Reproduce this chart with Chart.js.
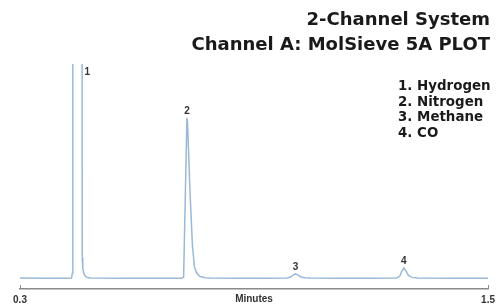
<!DOCTYPE html>
<html>
<head>
<meta charset="utf-8">
<script src="https://cdn.jsdelivr.net/npm/chart.js@4"></script>
<style>
  html, body { margin: 0; padding: 0; background: #fff; }
  #wrap { width: 500px; height: 306px; position: relative; }
</style>
</head>
<body>
<div id="wrap"><canvas id="crom" width="500" height="306"></canvas></div>
<script>
// chromatogram trace (minutes / relative signal)
const times = [
  0.300, 0.360, 0.420, 0.432, 0.4345, 0.4355, 0.447, 0.4585, 0.4595, 0.461,
  0.464, 0.468, 0.475, 0.481, 0.560, 0.650, 0.715, 0.7195, 0.728, 0.7295,
  0.736, 0.742, 0.747, 0.753, 0.762, 0.775, 0.790,
  0.850, 0.930, 0.985, 0.995, 1.001, 1.0066, 1.012, 1.020, 1.030, 1.045,
  1.120, 1.200, 1.265, 1.274, 1.279, 1.284, 1.289, 1.296, 1.305, 1.320,
  1.400, 1.500
];
const signal = [
  0.6, 0.5, 0.5, 0.6, 3, 400, 420, 400, 10, 5,
  2.5, 1.3, 0.7, 0.6, 0.5, 0.5, 0.5, 1, 75, 73,
  40, 16, 6, 2.8, 1.3, 0.7, 0.6,
  0.5, 0.5, 0.6, 1.2, 2.1, 2.5, 2.1, 1.1, 0.7, 0.6,
  0.5, 0.5, 0.6, 1.5, 3.8, 5.2, 4, 1.8, 0.9, 0.6,
  0.5, 0.5
];

const tickValues = [0.3, 1.5];
const axisTitle = 'Minutes';
const titleLines = ['2-Channel System', 'Channel A: MolSieve 5A PLOT'];
const peakNumbers = ['1', '2', '3', '4'];
const peakTimes = [0.447, 0.7285, 1.0066, 1.284];
const peakHeights = [420, 75, 2.5, 5.2];
const compounds = ['Hydrogen', 'Nitrogen', 'Methane', 'CO'];

const annotations = {
  id: 'annotations',
  afterDraw(chart) {
    const c = chart.ctx, xs = chart.scales.x, ys = chart.scales.y, area = chart.chartArea;
    c.save();
    // small upward ticks at the axis ends
    c.strokeStyle = '#8a8a8a';
    c.lineWidth = 1;
    tickValues.forEach(v => {
      const px = Math.round(xs.getPixelForValue(v)) + 0.5;
      c.beginPath();
      c.moveTo(px, area.bottom);
      c.lineTo(px, area.bottom - 4);
      c.stroke();
    });
    // axis title sits on the tick label line
    c.fillStyle = '#333';
    c.font = 'bold 10px "Liberation Sans", Arial, sans-serif';
    c.textAlign = 'center';
    c.textBaseline = 'middle';
    c.fillText(axisTitle, (area.left + area.right) / 2, 299);

    // peak numbers
    c.font = 'bold 10px "Liberation Sans", Arial, sans-serif';
    peakNumbers.forEach((n, i) => {
      let px = xs.getPixelForValue(peakTimes[i]);
      let py = ys.getPixelForValue(peakHeights[i]) - 7;
      if (py < area.top + 8) { py = area.top + 8; px += 10; }
      c.fillText(n, px, py);
    });

    // titles
    c.fillStyle = '#1a1a1a';
    c.textAlign = 'right';
    c.font = 'bold 18px "DejaVu Sans", sans-serif';
    titleLines.forEach((t, i) => c.fillText(t, 490, 20 + i * 25));

    // compound list
    c.textAlign = 'left';
    c.font = 'bold 13.4px "DejaVu Sans", sans-serif';
    compounds.forEach((t, i) => c.fillText((i + 1) + '. ' + t, 398, 87 + i * 15.5));
    c.restore();
  }
};

new Chart(document.getElementById('crom'), {
  type: 'line',
  data: {
    datasets: [{
      data: times.map((t, i) => ({ x: t, y: signal[i] })),
      borderColor: '#9ab9d8',
      borderWidth: 1.5,
      pointRadius: 0,
      tension: 0,
      fill: false
    }]
  },
  options: {
    responsive: false,
    animation: false,
    devicePixelRatio: 1,
    layout: { padding: { top: 64, left: 20, right: 4, bottom: -5 } },
    plugins: { legend: { display: false }, tooltip: { enabled: false } },
    scales: {
      x: {
        type: 'linear',
        min: 0.3,
        max: 1.5,
        afterBuildTicks: s => { s.ticks = tickValues.map(v => ({ value: v })); },
        grid: { drawOnChartArea: false, drawTicks: false },
        border: { display: true, color: '#8a8a8a', width: 1.5 },
        ticks: {
          padding: 5,
          color: '#333',
          font: { family: '"Liberation Sans", Arial, sans-serif', size: 10, weight: 'bold' },
          callback: v => v.toFixed(1)
        }
      },
      y: {
        display: false,
        min: -4.5,
        max: 100
      }
    }
  },
  plugins: [annotations]
});
</script>
</body>
</html>
